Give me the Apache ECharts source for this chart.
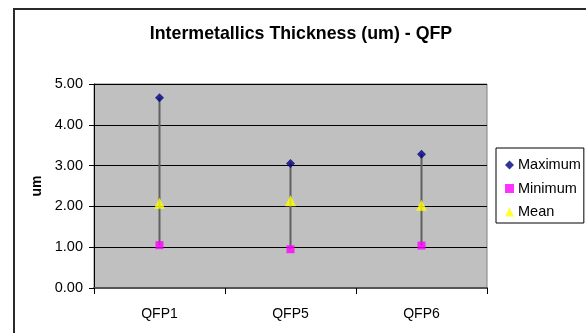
<!DOCTYPE html>
<html>
<head>
<meta charset="utf-8">
<script src="https://cdn.jsdelivr.net/npm/echarts@6/dist/echarts.min.js"></script>
<style>
  html, body { margin: 0; padding: 0; background: #ffffff; }
  #chart { width: 586px; height: 333px; }
</style>
</head>
<body>
<div id="chart"></div>
<script>
// Intermetallic layer thickness per QFP sample (um)
const categories = ['QFP1', 'QFP5', 'QFP6'];
const maximum = [4.66, 3.05, 3.28];
const minimum = [1.05, 0.95, 1.04];
const mean    = [2.08, 2.14, 2.03];
const yTicks  = [0, 1, 2, 3, 4, 5];

const chart = echarts.init(document.getElementById('chart'), null, { renderer: 'canvas' });
const FONT = 'Liberation Sans, Arial, sans-serif';

// High-low range lines, one per category, spanning minimum to maximum
const rangeData = categories.map((c, i) => [i, minimum[i], maximum[i]]);

chart.setOption({
  animation: false,
  backgroundColor: '#ffffff',
  title: {
    text: 'Intermetallics Thickness (um) - QFP',
    left: 296, top: 20, textAlign: 'center',
    textStyle: { fontFamily: FONT, fontSize: 17.8, fontWeight: 'bold', color: '#000' }
  },
  graphic: [
    { type: 'polyline', shape: { points: [[14, 340], [14, 9], [600, 9]] },
      style: { stroke: '#2a2a2a', lineWidth: 2, fill: null }, silent: true }
  ],
  legend: {
    orient: 'vertical',
    left: 496, top: 148,
    padding: [9, 3, 3, 9],
    itemGap: 7.5,
    itemWidth: 9, itemHeight: 9,
    borderColor: '#000', borderWidth: 1,
    backgroundColor: '#fff',
    textStyle: { fontFamily: FONT, fontSize: 14.5, lineHeight: 16, color: '#000', padding: [0, 0, 0, -1] },
    data: ['Maximum', 'Minimum', 'Mean']
  },
  grid: {
    left: 94, top: 84, width: 393, height: 204,
    show: true, backgroundColor: '#c0c0c0', borderColor: '#808080', borderWidth: 1
  },
  xAxis: {
    type: 'category',
    data: categories,
    boundaryGap: true,
    axisLine: { lineStyle: { color: '#555', width: 2 } },
    axisTick: { show: true, length: 6, lineStyle: { color: '#000', width: 1 } },
    axisLabel: { fontFamily: FONT, fontSize: 14, color: '#000', margin: 19 },
    splitLine: { show: false }
  },
  yAxis: {
    type: 'value',
    min: yTicks[0], max: yTicks[yTicks.length - 1], interval: 1,
    name: 'um',
    nameLocation: 'middle', nameGap: 49, nameRotate: 90,
    nameTextStyle: { fontFamily: FONT, fontSize: 14, fontWeight: 'bold', color: '#000' },
    axisLine: { show: true, lineStyle: { color: '#000', width: 1 } },
    axisTick: { show: true, length: 5, lineStyle: { color: '#000' } },
    axisLabel: { fontFamily: FONT, fontSize: 14.5, color: '#000', margin: 11,
                 formatter: v => v.toFixed(2) },
    splitLine: { show: true, lineStyle: { color: '#000', width: 1 } }
  },
  series: [
    {
      type: 'custom',
      name: 'range',
      data: rangeData,
      z: 1,
      renderItem: (params, api) => {
        const lo = api.coord([api.value(0), api.value(1)]);
        const hi = api.coord([api.value(0), api.value(2)]);
        return {
          type: 'line',
          shape: { x1: lo[0], y1: lo[1], x2: hi[0], y2: hi[1] },
          style: { stroke: '#606060', lineWidth: 2 }
        };
      }
    },
    {
      type: 'scatter', name: 'Maximum', data: maximum, z: 3,
      symbol: 'diamond', symbolSize: 9,
      itemStyle: { color: '#000080' }
    },
    {
      type: 'scatter', name: 'Minimum', data: minimum, z: 3,
      symbol: 'rect', symbolSize: 8,
      itemStyle: { color: '#ff00ff' }
    },
    {
      type: 'scatter', name: 'Mean', data: mean, z: 3,
      symbol: 'triangle', symbolSize: 11,
      itemStyle: { color: '#ffff00' }
    }
  ]
});
</script>
</body>
</html>
